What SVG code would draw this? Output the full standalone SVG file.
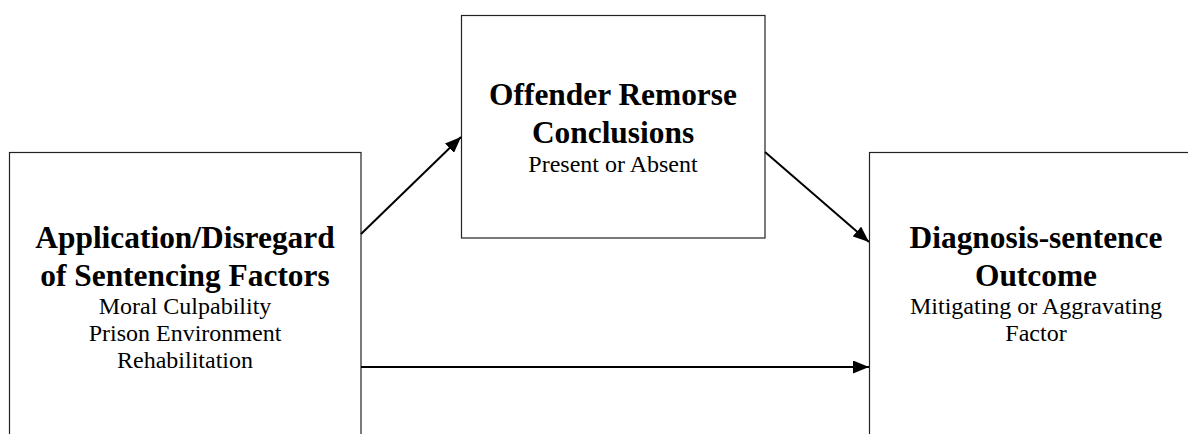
<svg xmlns="http://www.w3.org/2000/svg" width="1188" height="434" viewBox="0 0 1188 434">
<style>
.box{fill:#fff;stroke:#222;stroke-width:1.2}
.t{font-family:"Liberation Serif","Times New Roman",serif;text-anchor:middle;fill:#000}
.b{font-weight:bold;font-size:31.4px}
.r{font-size:24px}
.c{stroke:#000;stroke-width:2;fill:none}
</style>
<defs>
<marker id="ah" markerUnits="userSpaceOnUse" markerWidth="17" markerHeight="13" refX="16" refY="6.5" orient="auto">
<path d="M0,0 L16,6.5 L0,13 z" fill="#000"/>
</marker>
</defs>
<rect width="1188" height="434" fill="#fff"/>
<g id="node-application">
<rect class="box" x="9.5" y="152.5" width="351.5" height="300"/>
<text class="t b" x="185" y="248">Application/Disregard</text>
<text class="t b" x="185" y="286">of Sentencing Factors</text>
<text class="t r" x="185" y="314">Moral Culpability</text>
<text class="t r" x="185" y="341">Prison Environment</text>
<text class="t r" x="185" y="368">Rehabilitation</text>
</g>
<g id="node-remorse">
<rect class="box" x="461.5" y="15.5" width="303.5" height="222.5"/>
<text class="t b" x="613" y="105">Offender Remorse</text>
<text class="t b" x="613" y="143">Conclusions</text>
<text class="t r" x="613" y="172">Present or Absent</text>
</g>
<g id="node-outcome">
<rect class="box" x="869.5" y="152.5" width="340" height="300"/>
<text class="t b" x="1036" y="248">Diagnosis-sentence</text>
<text class="t b" x="1036" y="286">Outcome</text>
<text class="t r" x="1036" y="314">Mitigating or Aggravating</text>
<text class="t r" x="1036" y="341">Factor</text>
</g>
<g id="connectors">
<line class="c" x1="361" y1="234" x2="461" y2="137" marker-end="url(#ah)"/>
<line class="c" x1="765" y1="152" x2="869" y2="242" marker-end="url(#ah)"/>
<line class="c" x1="361" y1="367" x2="869" y2="367" marker-end="url(#ah)"/>
</g>
</svg>
